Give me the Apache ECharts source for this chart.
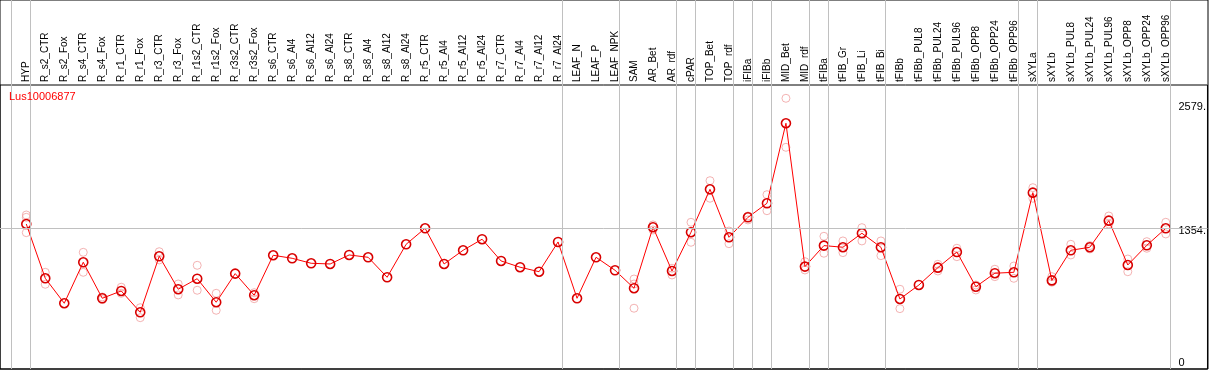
<!DOCTYPE html>
<html><head><meta charset="utf-8">
<script src="https://cdn.jsdelivr.net/npm/echarts@6/dist/echarts.min.js"></script>
<style>html,body{margin:0;padding:0;background:#fff}#c{width:1209px;height:370px}</style>
</head><body><div id="c"></div>
<script>
const chartTitle = 'Lus10006877';
const categories = ['HYP','R_s2_CTR','R_s2_Fox','R_s4_CTR','R_s4_Fox','R_r1_CTR','R_r1_Fox','R_r3_CTR','R_r3_Fox',
  'R_r1s2_CTR','R_r1s2_Fox','R_r3s2_CTR','R_r3s2_Fox','R_s6_CTR','R_s6_Al4','R_s6_Al12','R_s6_Al24',
  'R_s8_CTR','R_s8_Al4','R_s8_Al12','R_s8_Al24','R_r5_CTR','R_r5_Al4','R_r5_Al12','R_r5_Al24',
  'R_r7_CTR','R_r7_Al4','R_r7_Al12','R_r7_Al24','LEAF_N','LEAF_P','LEAF_NPK','SAM','AR_Bet','AR_rdf',
  'cPAR','TOP_Bet','TOP_rdf','iFIBa','iFIBb','MID_Bet','MID_rdf','tFIBa','tFIB_Gr','tFIB_Li','tFIB_Bi',
  'tFIBb','tFIBb_PUL8','tFIBb_PUL24','tFIBb_PUL96','tFIBb_OPP8','tFIBb_OPP24','tFIBb_OPP96',
  'sXYLa','sXYLb','sXYLb_PUL8','sXYLb_PUL24','sXYLb_PUL96','sXYLb_OPP8','sXYLb_OPP24','sXYLb_OPP96'];
const means = [1396,861,615,1019,664,736,526,1078,753,
  857,625,907,694,1088,1058,1009,1002,
  1091,1068,871,1196,1354,1002,1137,1246,
  1032,970,926,1219,664,1068,940,763,1364,933,
  1315,1738,1265,1462,1600,2389,976,1183,1167,1305,1167,
  657,795,966,1120,778,911,920,
  1705,840,1137,1167,1429,992,1186,1354];
const repHigh = [1485,920,null,1117,677,773,571,1123,805,
  989,713,null,719,null,null,null,null,
  null,null,null,null,null,null,null,null,
  null,null,null,null,null,null,null,854,1387,960,
  1413,1823,1327,1475,1685,2635,1025,1275,1229,1360,1229,
  753,null,999,1157,795,950,982,
  1754,877,1196,1183,1475,1051,1222,1413];
const repLow = [1311,802,null,920,651,713,473,1042,697,
  743,546,null,660,null,null,null,null,
  null,null,null,null,null,null,null,null,
  null,null,null,null,null,null,null,566,1337,894,
  1216,1650,1202,1436,1527,2152,943,1108,1114,1229,1084,
  562,null,933,1074,746,877,861,
  1650,822,1091,1150,1396,926,1157,1298];
const repMid = [1462,null,null,null,null,null,null,null,null,
  null,null,null,null,null,null,null,null,
  null,null,null,null,null,null,null,null,
  null,null,null,null,null,null,null,805,null,null,
  null,null,null,null,null,null,null,null,null,null,null,
  null,null,null,null,null,null,null,
  null,null,null,null,null,null,null,null];
const groupStarts = [0,1,29,32,35,36,38,39,40,42,43,46,53,54,61];
const yLabelValues = [0,1354,2579];
const yGridValues = [1354];

const X_MIN = -1.384, X_MAX = 62.195, Y_MIN = -33, Y_MAX = 2766, SEP_OFFSET = -0.79;
const GRAY = '#c0c0c0', RED = '#ff0000', PINK = '#f0a0a0';

const repPoints = [];
[repHigh, repLow, repMid].forEach(arr => arr.forEach((v, i) => { if (v != null) repPoints.push([i, v]); }));
const meanPoints = means.map((v, i) => [i, v]);

const chart = echarts.init(document.getElementById('c'), null, {renderer: 'canvas'});
chart.setOption({
  animation: false,
  backgroundColor: '#fff',
  title: {text: chartTitle, left: 9, top: 91, padding: 0,
    textStyle: {color: RED, fontSize: 11, fontWeight: 'normal', fontFamily: 'Liberation Sans'}},
  grid: [
    {left: 0, right: 1, top: 0, bottom: 1, show: true, borderColor: '#000', borderWidth: 1, z: 5},
    {left: 0, right: 1, top: 85, bottom: 1, show: true, borderColor: '#000', borderWidth: 1, z: 5},
    {left: 16.8, right: 33.2, top: 85, bottom: 1, show: false}
  ],
  xAxis: [
    {type: 'value', gridIndex: 0, min: X_MIN, max: X_MAX, show: false},
    {type: 'value', gridIndex: 1, min: X_MIN, max: X_MAX, show: false},
    {type: 'category', gridIndex: 2, position: 'top', data: categories, boundaryGap: true,
      axisLine: {show: false}, axisTick: {show: false}, splitLine: {show: false},
      axisLabel: {interval: 0, rotate: 90, margin: 3, fontSize: 10, color: '#000', fontFamily: 'Liberation Sans'}}
  ],
  yAxis: [
    {type: 'value', gridIndex: 0, min: 0, max: 1, show: false},
    {type: 'value', gridIndex: 1, min: Y_MIN, max: Y_MAX, position: 'right',
      axisLine: {show: false}, axisTick: {show: false}, splitLine: {show: false},
      axisLabel: {inside: true, align: 'left', margin: 29, customValues: yLabelValues,
        fontSize: 11, color: '#000', fontFamily: 'Liberation Sans',
        formatter: v => v === 0 ? '{z|0}' : '{n|' + v + '.}',
        rich: {z: {padding: [0, 0, 6, 0], fontSize: 11, fontFamily: 'Liberation Sans'},
               n: {padding: [5, 0, 0, 0], fontSize: 11, fontFamily: 'Liberation Sans'}}}},
    {type: 'value', gridIndex: 2, min: 0, max: 1, show: false}
  ],
  series: [
    {type: 'line', xAxisIndex: 0, yAxisIndex: 0, data: [[X_MIN, -1]], showSymbol: false,
      lineStyle: {opacity: 0}, silent: true, z: 1,
      markLine: {silent: true, symbol: ['none', 'none'], label: {show: false},
        lineStyle: {color: GRAY, type: 'solid', width: 1}, animation: false,
        data: groupStarts.map(s => ({xAxis: s + SEP_OFFSET}))}},
    {type: 'line', xAxisIndex: 1, yAxisIndex: 1, data: [[X_MIN, Y_MIN - 10]], showSymbol: false,
      lineStyle: {opacity: 0}, silent: true, z: 1,
      markLine: {silent: true, symbol: ['none', 'none'], label: {show: false},
        lineStyle: {color: GRAY, type: 'solid', width: 1}, animation: false,
        data: yGridValues.map(v => ({yAxis: v}))}},
    {type: 'scatter', xAxisIndex: 1, yAxisIndex: 1, data: repPoints, symbol: 'circle', symbolSize: 8,
      itemStyle: {color: 'rgba(0,0,0,0)', borderColor: PINK, borderWidth: 1}, silent: true, z: 2},
    {type: 'line', xAxisIndex: 1, yAxisIndex: 1, data: meanPoints, symbol: 'circle', symbolSize: 9,
      showAllSymbol: true,
      lineStyle: {color: RED, width: 1},
      itemStyle: {color: 'rgba(0,0,0,0)', borderColor: '#d80000', borderWidth: 1.6},
      silent: true, z: 3}
  ]
});
</script></body></html>
